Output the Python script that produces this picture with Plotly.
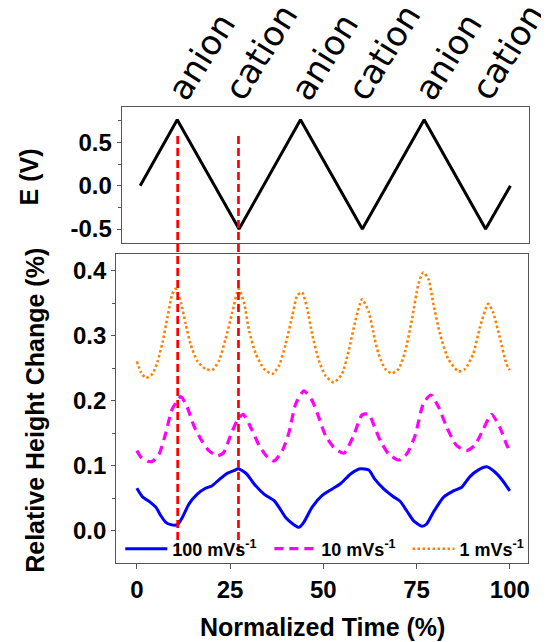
import plotly.graph_objects as go

# page is 549x642; the html body adds an 8px margin, so the figure is 8px smaller
OFF = 8
W, H = 549 - OFF, 642 - OFF

# ---------------- data ----------------
e_time = [0, 10, 26.7, 43.3, 60, 76.7, 93.3, 100]
e_potential = [0, 0.76, -0.5, 0.76, -0.5, 0.76, -0.5, 0]

t_100 = [0, 1.5, 3.7, 5.1, 6.4, 7.7, 9.1, 10.9, 12.2, 14.0, 16.2, 18.4, 20.2, 22.0, 24.2, 26.0,
         27.2, 28.8, 29.6, 31.4, 34.1, 36.8, 38.1, 39.9, 42.1, 43.5, 44.8, 47.0, 49.7, 52.4, 54.6,
         57.3, 59.9, 62.2, 63.8, 66.2, 68.8, 70.6, 72.4, 74.2, 76.4, 77.7, 79.5, 82.2, 84.9, 87.1,
         89.3, 91.5, 93.8, 96.0, 97.8, 100]
h_100 = [0.065, 0.052, 0.043, 0.036, 0.023, 0.013, 0.009, 0.009, 0.020, 0.041, 0.056, 0.065,
         0.069, 0.078, 0.088, 0.092, 0.095, 0.090, 0.086, 0.072, 0.056, 0.046, 0.036, 0.020,
         0.009, 0.005, 0.013, 0.036, 0.054, 0.064, 0.072, 0.087, 0.095, 0.093, 0.079, 0.064,
         0.052, 0.045, 0.030, 0.015, 0.0065, 0.010, 0.028, 0.051, 0.061, 0.0665, 0.083, 0.093,
         0.098, 0.090, 0.079, 0.061]

t_10 = [0, 1.1, 2.9, 4.2, 6.0, 7.7, 9.5, 11.8, 13.5, 15.3, 17.1, 19.3, 21.6, 23.3, 25.1, 26.9,
        28.5, 30.5, 32.8, 35.0, 36.8, 39.0, 40.8, 42.6, 44.8, 47.0, 48.8, 50.6, 52.8, 55.5, 58.1,
        60.4, 62.2, 63.7, 65.3, 67.5, 70.2, 72.4, 74.6, 76.8, 78.8, 80.9, 83.1, 85.7, 88.4, 90.6,
        92.9, 95.1, 97.3, 99.1, 100]
h_10 = [0.123, 0.113, 0.1065, 0.1065, 0.118, 0.149, 0.187, 0.206, 0.190, 0.161, 0.141, 0.123,
        0.115, 0.120, 0.146, 0.169, 0.179, 0.159, 0.131, 0.113, 0.107, 0.123, 0.151, 0.195,
        0.215, 0.200, 0.174, 0.146, 0.128, 0.119, 0.146, 0.178, 0.179, 0.160, 0.138, 0.118,
        0.1085, 0.118, 0.146, 0.195, 0.2086, 0.190, 0.159, 0.131, 0.123, 0.131, 0.156, 0.179,
        0.159, 0.133, 0.122]

t_1 = [0, 1.1, 2.4, 4.2, 5.5, 6.9, 8.2, 9.5, 10.4, 11.8, 13.1, 14.4, 16.2, 18.4, 20.2, 22.0,
       23.8, 25.6, 27.3, 28.8, 30.1, 31.9, 34.1, 36.3, 38.1, 39.9, 41.7, 43.0, 44.3, 45.7, 47.0,
       48.8, 50.6, 52.8, 55.0, 56.8, 58.6, 60.4, 62.2, 63.7, 64.8, 66.6, 68.4, 70.2, 72.0, 73.7,
       75.5, 76.8, 78.2, 79.5, 81.3, 83.5, 86.2, 88.0, 90.2, 92.0, 94.2, 95.5, 97.3, 99.1, 100]
h_1 = [0.2605, 0.2436, 0.2348, 0.241, 0.259, 0.290, 0.328, 0.364, 0.372, 0.351, 0.318, 0.287,
       0.261, 0.2487, 0.247, 0.261, 0.295, 0.336, 0.372, 0.349, 0.3076, 0.272, 0.2487, 0.241,
       0.2537, 0.287, 0.331, 0.3615, 0.3667, 0.341, 0.3025, 0.2614, 0.2383, 0.228, 0.241, 0.277,
       0.323, 0.356, 0.336, 0.297, 0.272, 0.2487, 0.242, 0.2487, 0.277, 0.323, 0.3795, 0.3975,
       0.387, 0.349, 0.3025, 0.264, 0.245, 0.2487, 0.272, 0.313, 0.349, 0.336, 0.2975, 0.2564,
       0.247]

series_names = ["100 mVs<sup>-1</sup>", "10 mVs<sup>-1</sup>", "1 mVs<sup>-1</sup>"]
marker_times = [10.95, 27.25]
ion_labels = ["anion", "cation", "anion", "cation", "anion", "cation"]
ion_times = [10, 26.7, 43.3, 60, 76.7, 93.3]

x_tickvals = [0, 25, 50, 75, 100]
x_ticktext = ["0", "25", "50", "75", "100"]
e_tickvals = [-0.5, 0.0, 0.5]
e_ticktext = ["-0.5", "0.0", "0.5"]
h_tickvals = [0.0, 0.1, 0.2, 0.3, 0.4]
h_ticktext = ["0.0", "0.1", "0.2", "0.3", "0.4"]


# ---------------- helpers (page pixels -> paper fractions) ----------------
def fx(p):
    return (p - OFF) / W


def fy(p):
    return 1 - (p - OFF) / H


FONT = "Liberation Sans, Arial, sans-serif"
AXC = "#555555"
ITEMW = 42  # legend symbol width

fig = go.Figure()

fig.add_trace(go.Scatter(x=e_time, y=e_potential, mode="lines", xaxis="x", yaxis="y",
                         line=dict(color="black", width=3), showlegend=False))

fig.add_trace(go.Scatter(x=t_100, y=h_100, mode="lines", xaxis="x2", yaxis="y2",
                         name=series_names[0], legend="legend",
                         line=dict(color="#0000ff", width=3, shape="spline", smoothing=0.6)))
fig.add_trace(go.Scatter(x=t_10, y=h_10, mode="lines", xaxis="x2", yaxis="y2",
                         name=series_names[1], legend="legend2",
                         line=dict(color="#ff00ff", width=3.2, dash="9px,6px",
                                   shape="spline", smoothing=0.6)))
fig.add_trace(go.Scatter(x=t_1, y=h_1, mode="lines", xaxis="x2", yaxis="y2",
                         name=series_names[2], legend="legend3",
                         line=dict(color="#ff8000", width=2.6, dash="2.5px,2.5px",
                                   shape="spline", smoothing=0.6)))

for t in marker_times:
    fig.add_shape(type="line", xref="x2", yref="paper", x0=t, x1=t,
                  y0=fy(552), y1=fy(133.3), layer="above",
                  line=dict(color="#ff0000", width=2.7, dash="8px,4px"))

for lab, t in zip(ion_labels, ion_times):
    is_anion = lab == "anion"
    fig.add_annotation(text=lab, xref="x", yref="paper", x=t,
                       xshift=23.5 if is_anion else 21.5,
                       y=fy(56.7 if is_anion else 51.7),
                       xanchor="center", yanchor="middle", showarrow=False,
                       textangle=-58,
                       font=dict(family="DejaVu Sans", size=34, color="black"))

# axis titles
fig.add_annotation(text="Normalized Time (%)", xref="paper", yref="paper",
                   x=fx(323.3), y=fy(627), xanchor="center", yanchor="middle",
                   showarrow=False, font=dict(family=FONT, size=25, color="black", weight="bold"))
fig.add_annotation(text="Relative Height Change (%)", xref="paper", yref="paper",
                   x=fx(34.9), y=fy(410), xanchor="center", yanchor="middle", textangle=-90,
                   showarrow=False, font=dict(family=FONT, size=25, color="black", weight="bold"))
fig.add_annotation(text="E (V)", xref="paper", yref="paper",
                   x=fx(28.8), y=fy(176.7), xanchor="center", yanchor="middle", textangle=-90,
                   showarrow=False, font=dict(family=FONT, size=25, color="black", weight="bold"))

tickfont = dict(family=FONT, size=24, color="black", weight="bold")
common = dict(showgrid=False, zeroline=False, showline=True, mirror=True,
              linecolor=AXC, linewidth=1)

leg_common = dict(orientation="h", xanchor="left", yanchor="middle",
                  bgcolor="rgba(0,0,0,0)", borderwidth=0, itemwidth=ITEMW,
                  font=dict(family=FONT, size=18, color="black", weight="bold"))

fig.update_layout(
    width=W, height=H,
    margin=dict(l=0, r=0, t=0, b=0),
    paper_bgcolor="white", plot_bgcolor="white",
    xaxis=dict(domain=[fx(122), fx(530.5)], range=[-5.03, 104.9], anchor="y",
               showticklabels=False, ticks="", **common),
    yaxis=dict(domain=[fy(242.7), fy(106.7)], range=[-0.657, 0.911], anchor="x",
               tickmode="array", tickvals=e_tickvals, ticktext=e_ticktext,
               ticks="outside", ticklen=4, tickwidth=1, tickcolor=AXC, tickfont=tickfont,
               minor=dict(tick0=0.25, dtick=0.5, ticks="outside", ticklen=3, tickcolor=AXC),
               **common),
    xaxis2=dict(domain=[fx(116.5), fx(530)], range=[-5.56, 104.9], anchor="y2",
                tickmode="array", tickvals=x_tickvals, ticktext=x_ticktext,
                ticks="outside", ticklen=5, tickwidth=1, tickcolor=AXC, tickfont=tickfont,
                **common),
    yaxis2=dict(domain=[fy(562.7), fy(254)], range=[-0.0496, 0.4257], anchor="x2",
                tickmode="array", tickvals=h_tickvals, ticktext=h_ticktext,
                ticks="outside", ticklen=4, tickwidth=1, tickcolor=AXC, tickfont=tickfont,
                minor=dict(tick0=0.05, dtick=0.1, ticks="outside", ticklen=3, tickcolor=AXC),
                **common),
    legend=dict(x=fx(172.7 - ITEMW - 10), y=fy(549), **leg_common),
    legend2=dict(x=fx(322.3 - ITEMW - 10), y=fy(549), **leg_common),
    legend3=dict(x=fx(461 - ITEMW - 10), y=fy(549), **leg_common),
)

fig.write_html("out.html")
